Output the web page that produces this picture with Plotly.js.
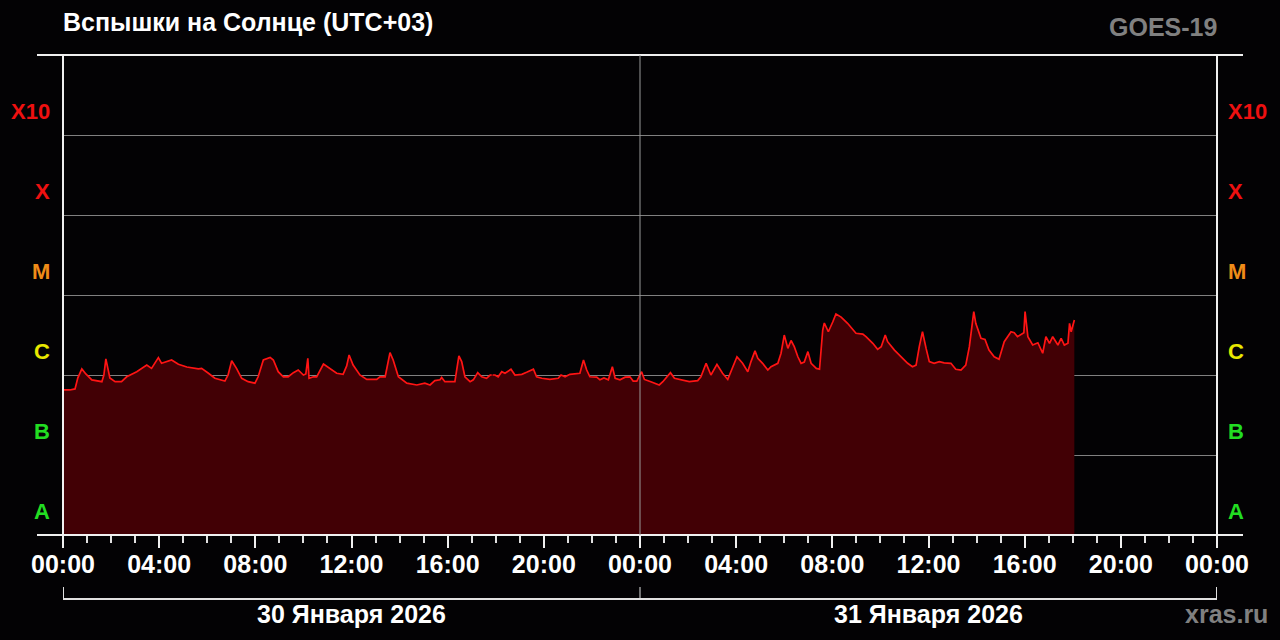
<!DOCTYPE html>
<html>
<head>
<meta charset="utf-8">
<script src="https://cdn.plot.ly/plotly-3.0.1.min.js"></script>
<style>
  html, body { margin: 0; padding: 0; background: #030204; }
  #chart { width: 1280px; height: 640px; }
</style>
</head>
<body>
<div id="chart"></div>
<script>
// ---- Data (GOES-19 X-ray flux, W/m^2, local time UTC+03) ----
const day1Date = "2026-01-30";
const day2Date = "2026-01-31";

const day1Times = ["00:00","00:17","00:30","00:37","00:47","00:57","01:12","01:37","01:42","01:47","01:57","02:10","02:26","02:39","03:04","03:29","03:41","03:58","04:06","04:19","04:31","04:48","05:09","05:38","05:46","06:03","06:19","06:44","06:52","07:01","07:13","07:26","07:42","07:59","08:07","08:20","08:37","08:45","08:57","09:10","09:22","09:35","09:47","10:00","10:06","10:11","10:14","10:25","10:33","10:50","11:06","11:23","11:39","11:48","11:54","12:04","12:21","12:38","13:03","13:11","13:24","13:29","13:36","13:44","13:57","14:18","14:43","15:03","15:16","15:28","15:41","15:45","15:53","16:18","16:25","16:28","16:35","16:43","16:56","17:04","17:15","17:25","17:37","17:46","17:50","17:51","17:52","17:58","18:06","18:15","18:23","18:38","18:48","19:05","19:17","19:34","19:42","19:55","20:15","20:36","20:43","20:53","21:05","21:22","21:30","21:39","21:47","21:55","22:12","22:20","22:30","22:41","22:51","22:58","23:10","23:23","23:35","23:43","23:52"];
const day1Flux = [6.5e-7,6.5e-7,6.7e-7,9.2e-7,1.19e-6,1.03e-6,8.7e-7,8.25e-7,1.0e-6,1.59e-6,9.2e-7,8.25e-7,8.25e-7,9.5e-7,1.10e-6,1.33e-6,1.21e-6,1.65e-6,1.40e-6,1.47e-6,1.54e-6,1.36e-6,1.26e-6,1.19e-6,1.21e-6,1.05e-6,9.1e-7,8.4e-7,1.0e-6,1.51e-6,1.21e-6,9.1e-7,8.25e-7,7.9e-7,9.5e-7,1.54e-6,1.66e-6,1.54e-6,1.10e-6,9.5e-7,9.5e-7,1.07e-6,1.155e-6,1.0e-6,1.03e-6,1.62e-6,9.1e-7,9.5e-7,9.5e-7,1.37e-6,1.21e-6,1.05e-6,1.02e-6,1.30e-6,1.78e-6,1.33e-6,1.0e-6,8.8e-7,8.8e-7,9.5e-7,9.5e-7,1.27e-6,1.90e-6,1.54e-6,9.5e-7,7.9e-7,7.5e-7,7.9e-7,7.5e-7,8.5e-7,8.7e-7,9.3e-7,8.25e-7,8.25e-7,1.47e-6,1.73e-6,1.47e-6,9.5e-7,8.25e-7,8.7e-7,1.07e-6,9.5e-7,9.1e-7,1.0e-6,1.0e-6,null,1.0e-6,1.0e-6,9.5e-7,1.10e-6,1.05e-6,1.18e-6,1.0e-6,1.02e-6,1.08e-6,1.18e-6,9.5e-7,9.1e-7,8.8e-7,9.1e-7,1.0e-6,9.5e-7,1.02e-6,1.05e-6,1.05e-6,1.54e-6,1.155e-6,9.5e-7,9.4e-7,8.7e-7,9.2e-7,8.7e-7,1.27e-6,9.1e-7,8.7e-7,9.4e-7,9.5e-7,8.4e-7,8.4e-7];

const day2Times = ["00:04","00:11","00:27","00:48","00:57","01:16","01:26","01:42","02:03","02:24","02:32","02:45","02:57","03:12","03:26","03:39","03:51","04:02","04:16","04:29","04:37","04:47","04:54","05:06","05:19","05:27","05:44","05:52","06:00","06:09","06:17","06:25","06:34","06:42","06:50","06:59","07:07","07:20","07:28","07:32","07:36","07:40","07:50","08:01","08:09","08:22","08:38","08:59","09:16","09:24","09:41","09:53","10:02","10:12","10:18","10:35","10:51","11:08","11:20","11:29","11:37","11:45","11:54","12:02","12:14","12:27","12:39","12:56","13:08","13:21","13:33","13:42","13:53","13:58","14:11","14:21","14:31","14:44","14:56","15:09","15:26","15:34","15:42","15:51","15:58","16:01","16:08","16:20","16:33","16:45","16:53","17:02","17:10","17:23","17:31","17:39","17:48","17:52","17:56","18:04"];
const day2Flux = [1.10e-6,8.8e-7,8.25e-7,7.5e-7,8.25e-7,1.07e-6,9.1e-7,8.7e-7,8.25e-7,8.5e-7,9.5e-7,1.40e-6,1.0e-6,1.36e-6,1.05e-6,8.8e-7,1.27e-6,1.69e-6,1.40e-6,1.10e-6,1.47e-6,2.0e-6,1.62e-6,1.40e-6,1.155e-6,1.27e-6,1.40e-6,1.87e-6,3.16e-6,2.15e-6,2.7e-6,2.26e-6,1.69e-6,1.40e-6,1.45e-6,1.96e-6,1.40e-6,1.21e-6,1.18e-6,2.05e-6,3.65e-6,4.47e-6,3.47e-6,4.6e-6,5.79e-6,5.3e-6,4.43e-6,3.32e-6,3.25e-6,3.01e-6,2.49e-6,2.09e-6,2.26e-6,3.16e-6,2.61e-6,2.05e-6,1.69e-6,1.40e-6,1.27e-6,1.33e-6,2.26e-6,3.47e-6,2.15e-6,1.47e-6,1.40e-6,1.47e-6,1.42e-6,1.40e-6,1.18e-6,1.155e-6,1.33e-6,2.26e-6,6.2e-6,4.43e-6,2.88e-6,2.79e-6,2.05e-6,1.69e-6,1.57e-6,2.61e-6,3.47e-6,3.38e-6,3.01e-6,3.25e-6,3.38e-6,6.2e-6,3.01e-6,2.37e-6,2.53e-6,1.87e-6,3.01e-6,2.49e-6,3.01e-6,2.37e-6,2.88e-6,2.37e-6,2.49e-6,4.43e-6,3.47e-6,4.87e-6];

const classLabels = ["A","B","C","M","X","X10"];
const classLevels = [1e-8,1e-7,1e-6,1e-5,1e-4,1e-3];
const classColors = ["#22dd22","#22dd22","#e8e800","#f08c18","#ee1010","#ee1010"];
const dayLabels = ["30 Января 2026","31 Января 2026"];

// ---- Build ----
const xs = day1Times.map(t => day1Date + " " + t).concat(day2Times.map(t => day2Date + " " + t));
const ys = day1Flux.concat(day2Flux);

const FONT = "Liberation Sans, Arial, Helvetica, sans-serif";
const xStart = day1Date + " 00:00";
const xMid = day2Date + " 00:00";
const xEnd = "2026-02-01 00:00";

const trace = {
  x: xs, y: ys, type: "scatter", mode: "lines",
  line: {color: "#ff1414", width: 1.7},
  fill: "tozeroy", fillcolor: "#420005",
  connectgaps: false, hoverinfo: "skip"
};

const annotations = [];
classLabels.forEach((lab, i) => {
  const yv = Math.log10(classLevels[i]) + 0.3;
  annotations.push({xref: "paper", yref: "y", x: (50 - 63) / 1154, y: yv, xanchor: "right", yanchor: "middle",
    text: lab, showarrow: false, borderpad: 0, xshift: 1,
    font: {family: FONT, size: 22, color: classColors[i], weight: "bold"}});
  annotations.push({xref: "paper", yref: "y", x: (1228 - 63) / 1154, y: yv, xanchor: "left", yanchor: "middle",
    text: lab, showarrow: false, borderpad: 0, xshift: -1,
    font: {family: FONT, size: 22, color: classColors[i], weight: "bold"}});
});
annotations.push({xref: "paper", yref: "paper", x: 0, y: (535 - 22) / 480, xanchor: "left", yanchor: "middle",
  text: "Вспышки на Солнце (UTC+03)", showarrow: false, borderpad: 0, xshift: -1,
  font: {family: FONT, size: 25, color: "#ffffff", weight: "bold"}});
annotations.push({xref: "paper", yref: "paper", x: 1, y: (535 - 27) / 480, xanchor: "right", yanchor: "middle",
  text: "GOES-19", showarrow: false, borderpad: 0, xshift: 1,
  font: {family: FONT, size: 25, color: "#808080", weight: "bold"}});
annotations.push({xref: "paper", yref: "paper", x: (1268 - 63) / 1154, y: (535 - 614) / 480, xanchor: "right", yanchor: "middle",
  text: "xras.ru", showarrow: false, borderpad: 0, xshift: 1,
  font: {family: FONT, size: 25, color: "#808080", weight: "bold"}});
annotations.push({xref: "x", yref: "paper", x: day1Date + " 12:00", y: (535 - 614) / 480, xanchor: "center", yanchor: "middle",
  text: dayLabels[0], showarrow: false, borderpad: 0,
  font: {family: FONT, size: 25, color: "#ffffff", weight: "bold"}});
annotations.push({xref: "x", yref: "paper", x: day2Date + " 12:00", y: (535 - 614) / 480, xanchor: "center", yanchor: "middle",
  text: dayLabels[1], showarrow: false, borderpad: 0,
  font: {family: FONT, size: 25, color: "#ffffff", weight: "bold"}});

const px = v => (v - 63) / 1154;   // pixel helpers for frame decorations
const py = v => (535 - v) / 480;
const white = {color: "#f0f0f0", width: 2};
const shapes = [
  {type: "line", xref: "paper", yref: "paper", x0: px(37), x1: px(1243), y0: 1, y1: 1, line: white, layer: "above"},
  {type: "line", xref: "paper", yref: "paper", x0: px(37), x1: px(1243), y0: 0, y1: 0, line: white, layer: "above"},
  {type: "line", xref: "paper", yref: "paper", x0: 0, x1: 0, y0: py(547), y1: 1, line: white, layer: "above"},
  {type: "line", xref: "paper", yref: "paper", x0: 1, x1: 1, y0: py(547), y1: 1, line: white, layer: "above"},
  {type: "line", xref: "x", yref: "paper", x0: xMid, x1: xMid, y0: 0, y1: 1, line: {color: "#9a9a9a", width: 1}, layer: "above"},
  {type: "line", xref: "paper", yref: "paper", x0: 0, x1: 1, y0: py(599), y1: py(599), line: {color: "#e0e0e0", width: 2}},
  {type: "line", xref: "x", yref: "paper", x0: xStart, x1: xStart, y0: py(587), y1: py(599), line: {color: "#e0e0e0", width: 2}},
  {type: "line", xref: "x", yref: "paper", x0: xMid, x1: xMid, y0: py(587), y1: py(599), line: {color: "#e0e0e0", width: 1}},
  {type: "line", xref: "x", yref: "paper", x0: xEnd, x1: xEnd, y0: py(587), y1: py(599), line: {color: "#e0e0e0", width: 2}}
];

const layout = {
  width: 1280, height: 640,
  margin: {l: 63, r: 63, t: 55, b: 105},
  paper_bgcolor: "#030204", plot_bgcolor: "#030204",
  showlegend: false,
  xaxis: {
    type: "date", range: [xStart, xEnd],
    showgrid: false, zeroline: false, showline: false,
    tick0: xStart, dtick: 4 * 3600000, tickformat: "%H:%M",
    ticks: "outside", ticklen: 12, tickwidth: 2, tickcolor: "#f0f0f0",
    ticklabelstandoff: -5,
    tickfont: {family: FONT, size: 25, color: "#ffffff", weight: "bold"},
    minor: {dtick: 3600000, ticks: "outside", ticklen: 7, tickwidth: 2, tickcolor: "#e0e0e0", showgrid: false},
    fixedrange: true
  },
  yaxis: {
    type: "log", range: [-8, -2],
    tickvals: [1e-7, 1e-6, 1e-5, 1e-4, 1e-3],
    showticklabels: false, ticks: "",
    showgrid: true, gridcolor: "#808080", gridwidth: 1,
    zeroline: false, showline: false, fixedrange: true
  },
  annotations: annotations,
  shapes: shapes
};

Plotly.newPlot("chart", [trace], layout, {displayModeBar: false, staticPlot: true});
</script>
</body>
</html>
